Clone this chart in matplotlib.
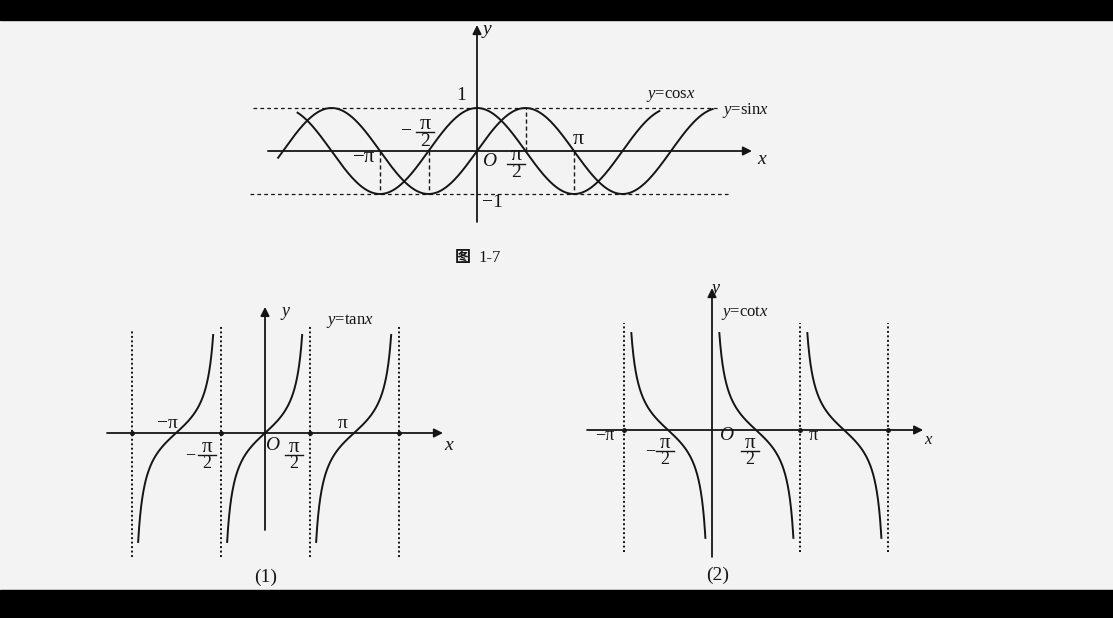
import matplotlib
matplotlib.use("Agg")
import matplotlib.pyplot as plt
from matplotlib.patches import Rectangle
import numpy as np

W, H = 1113, 618
PI = np.pi

plt.rcParams['font.family'] = ['Liberation Serif', 'Noto Sans CJK SC', 'DejaVu Sans']
plt.rcParams['mathtext.fontset'] = 'custom'
plt.rcParams['mathtext.rm'] = 'Liberation Serif'
plt.rcParams['mathtext.it'] = 'Liberation Serif:italic'

# ---- data (x in multiples of pi) ----
# figure 1-7 : y = sin x, y = cos x
sin_range = [-2.05, 2.43]
cos_range = [-1.85, 1.88]
guide_up = [0.5]                # dashed drops from y=1 to axis
guide_down = [-1.0, -0.5, 1.0]  # dashed drops from axis to y=-1

# (1) y = tan x : branch centres and clipped y range
tan_centres = [-1.0, 0.0, 1.0]
tan_asymptotes = [-1.5, -0.5, 0.5, 1.5]
tan_ylim = [-4.19, 3.77]

# (2) y = cot x
cot_starts = [-1.0, 0.0, 1.0]
cot_asymptotes = [-1.0, 1.0, 2.0]
cot_ylim = [-4.15, 3.73]

fig = plt.figure(figsize=(W / 100, H / 100), dpi=100)
fig.patch.set_facecolor('#f3f3f3')

# scan border (black bars)
fig.patches.append(Rectangle((0, 1 - 20 / H), 1, 20 / H, transform=fig.transFigure,
                             color='black', zorder=0))
fig.patches.append(Rectangle((0, 0), 1, 28 / H, transform=fig.transFigure,
                             color='black', zorder=0))


def panel(ox, oy, sx, sy):
    # axes over whole figure so that data maps onto pixel positions
    ax = fig.add_axes([0, 0, 1, 1])
    ax.set_xlim((0 - ox) / sx, (W - ox) / sx)
    ax.set_ylim((oy - H) / sy, oy / sy)
    ax.axis('off')
    ax.patch.set_alpha(0)
    return ax


def arrow(ax, x0, y0, x1, y1):
    ax.annotate('', xy=(x1, y1), xytext=(x0, y0),
                arrowprops=dict(arrowstyle='-|>', lw=1.3, color='#151515',
                                mutation_scale=13, shrinkA=0, shrinkB=0))


def label(x, y, s, size=13, **kw):
    fig.text(x / W, 1 - y / H, s, fontsize=size, ha='center', va='center',
             color='#151515', **kw)


def frac(x, y, size=14, minus=None, gap=8):
    label(x, y - gap, 'π', size + 2)
    label(x, y + gap + 1, '2', size)
    fig.add_artist(plt.Line2D([(x - 9) / W, (x + 9) / W], [1 - y / H, 1 - y / H],
                              color='#151515', lw=1.0))
    if minus is not None:
        label(minus, y, '−', size)


lw_curve = 1.4
col = '#151515'

# ---------------- top: sin / cos ----------------
ax = panel(477, 151, 97, 43)
arrow(ax, -2.155, 0, 2.835, 0)
arrow(ax, 0, -1.65, 0, 2.93)
ax.plot([-2.31, 2.47], [1, 1], ls=(0, (3, 2.5)), lw=0.9, color=col)
ax.plot([-2.34, 2.59], [-1, -1], ls=(0, (3, 2.5)), lw=0.9, color=col)
for g in guide_up:
    ax.plot([g, g], [0, 1], ls=(0, (3, 2)), lw=1.0, color=col)
for g in guide_down:
    ax.plot([g, g], [0, -1], ls=(0, (3, 2)), lw=1.0, color=col)
xs = np.linspace(sin_range[0], sin_range[1], 600)
ax.plot(xs, np.sin(xs * PI), lw=lw_curve, color=col)
xc = np.linspace(cos_range[0], cos_range[1], 600)
ax.plot(xc, np.cos(xc * PI), lw=lw_curve, color=col)

label(487, 30, 'y', 14, style='italic')
label(762, 160, 'x', 14, style='italic')
label(461, 96, '1', 14)
label(492, 203, '−1', 14)
label(489, 161, 'O', 14, style='italic')
label(364, 158, '−π', 15)
frac(425, 132, 14, minus=407)
frac(516, 164, 14)
label(578, 140, 'π', 16)
label(671, 96, r'$y$=cos$x$', 12)
label(745, 111, r'$y$=sin$x$', 12)
label(463, 258, '图', 11.5, weight='bold')
label(490, 258, '1-7', 12)

# ---------------- (1) tan ----------------
ax = panel(265, 433, 89, 26)
arrow(ax, -1.775, 0, 2.0, 0)
arrow(ax, 0, -3.73, 0, 4.85)
for a in tan_asymptotes:
    top = 3.96 if a == tan_asymptotes[0] else 4.15
    ax.plot([a, a], [-4.77, top], ls=(0, (1, 1.3)), lw=1.4, color=col)
    ax.plot([a], [0], 'o', ms=2.5, color=col)
for c in tan_centres:
    lo = np.arctan(tan_ylim[0]) / PI
    hi = np.arctan(tan_ylim[1]) / PI
    t = np.linspace(lo, hi, 400)
    ax.plot(c + t, np.tan(t * PI), lw=lw_curve, color=col)

label(285, 312, 'y', 13, style='italic')
label(449, 446, 'x', 14, style='italic')
label(350, 321, r'$y$=tan$x$', 12)
label(167, 423, '−π', 14)
frac(207, 455, 13, minus=190)
label(272, 446, 'O', 14, style='italic')
frac(294, 455, 13)
label(343, 423, 'π', 14)
label(266, 577, '(1)', 14)

# ---------------- (2) cot ----------------
ax = panel(712, 430, 88, 26)
arrow(ax, -1.42, 0, 2.40, 0)
arrow(ax, 0, -4.88, 0, 5.46)
for a in cot_asymptotes:
    ax.plot([a, a], [-4.69, 4.12], ls=(0, (1, 1.3)), lw=1.4, color=col)
    ax.plot([a], [0], 'o', ms=2.5, color=col)
for s in cot_starts:
    lo = np.arctan(1 / cot_ylim[1]) / PI
    hi = 1 - np.arctan(1 / -cot_ylim[0]) / PI
    t = np.linspace(lo, hi, 400)
    ax.plot(s + t, 1 / np.tan(t * PI), lw=lw_curve, color=col)

label(716, 289, 'y', 13, style='italic')
label(928, 440, 'x', 12, style='italic')
label(745, 313, r'$y$=cot$x$', 12)
label(605, 436, '−π', 13)
frac(665, 451, 13, minus=650)
label(726, 436, 'O', 14, style='italic')
frac(750, 451, 13)
label(813, 435, 'π', 13)
label(718, 575, '(2)', 14)

fig.savefig('out.png', dpi=100, facecolor=fig.get_facecolor())
